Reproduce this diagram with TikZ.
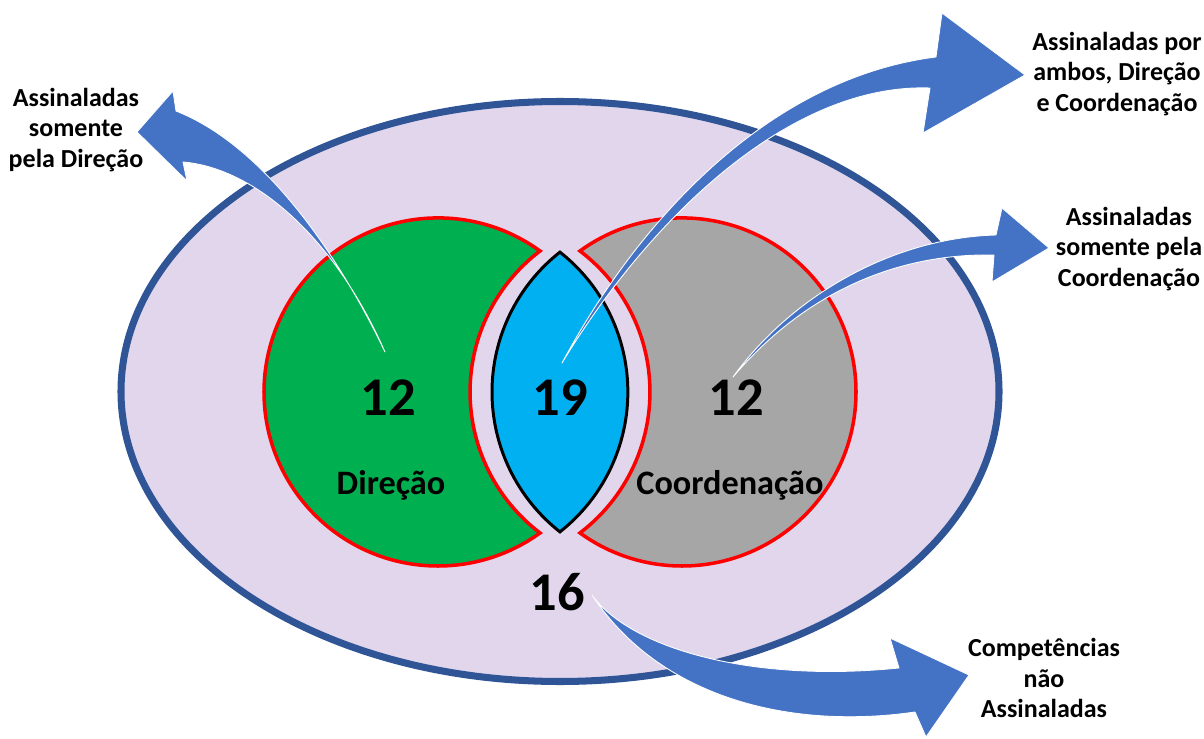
\documentclass[tikz,border=0pt]{standalone}
\usepackage{fontspec}
\setmainfont{Carlito}
\usetikzlibrary{calc}

\definecolor{lavender}{RGB}{225,214,236}
\definecolor{ringblue}{RGB}{47,85,151}
\definecolor{dirgreen}{RGB}{0,176,80}
\definecolor{coordgray}{RGB}{166,166,166}
\definecolor{lensblue}{RGB}{0,176,240}
\definecolor{arrowblue}{RGB}{68,114,196}

\tikzset{
  region/.style={draw=red, line width=2pt},
  bigarrow/.style={fill=arrowblue, draw=white, line width=0.5pt, line join=round},
  num/.style={font=\fontsize{31}{31}\selectfont\bfseries},
  setname/.style={font=\fontsize{19.5}{19.5}\selectfont\bfseries, anchor=base},
  side/.style={font=\fontsize{14.8}{17.6}\selectfont\bfseries, align=center}
}

\begin{document}
\begin{tikzpicture}[x=0.02cm,y=0.02cm]
    \useasboundingbox (0,0) rectangle (1204,738);

    \coordinate (O) at (560,346.5);
    \coordinate (G) at (438,346);
    \coordinate (C) at (682,346);

    % outer set
    \filldraw[fill=lavender, draw=ringblue, line width=4pt] (O) ellipse [x radius=439, y radius=290];

    % crescents and lens
    \filldraw[fill=dirgreen, region] ($(G)+(180:174)$) arc (180:305.9:174) arc (232.8:127.2:177) arc (54.1:180:174) -- cycle;
    \filldraw[fill=coordgray, region] ($(C)+(0:174)$) arc (0:-125.9:174) arc (-52.8:52.8:177) arc (125.9:0:174) -- cycle;
    \filldraw[fill=lensblue, draw=black, line width=1.7pt] (492,346) arc (180:231.8:178) arc (-51.8:51.8:178) arc (128.2:180:178) -- cycle;

    \node[num] (dir-n) at (388,340) {12};
    \node[num] (both-n) at (560,340) {19};
    \node[num] (coord-n) at (736,340) {12};
    \node[num] (none-n) at (557,146) {16};
    \node[setname] (dir-l) at (391,244) {Direção};
    \node[setname] (coord-l) at (730,244) {Coordenação};

    \node[side] (dir-t) at (76,608) {Assinaladas\\somente\\pela Direção};
    \node[side] (both-t) at (1117,664) {Assinaladas por\\ambos, Direção\\e Coordenação};
    \node[side] (coord-t) at (1129,489) {Assinaladas\\somente pela\\Coordenação};
    \node[side] (none-t) at (1044,60) {Competências\\não\\Assinaladas};

    % curved block arrows
    \coordinate (A1) at (385,386);
    \coordinate (A2) at (562,375);
    \coordinate (A3) at (733,361);
    \coordinate (A4) at (592,143);

    \fill[bigarrow] (A1) .. controls (345,470) and (270,590) .. (176,627) -- (173,647) -- (137,606)
        -- (187,557) -- (183,576) .. controls (255,570) and (335,500) .. (A1) -- cycle;
    \fill[bigarrow] (A2) .. controls (640,520) and (770,660) .. (936,681) -- (942,725) -- (1025,663)
        -- (923,605) -- (930,650) .. controls (790,655) and (650,520) .. (A2) -- cycle;
    \fill[bigarrow] (A3) .. controls (790,440) and (890,500) .. (996,503) -- (1002,530) -- (1049,490)
        -- (992,456) -- (994,483) .. controls (890,485) and (800,440) .. (A3) -- cycle;
    \fill[bigarrow] (A4) .. controls (630,90) and (750,55) .. (899,70) -- (890,100) -- (969,63)
        -- (926,1) -- (915,26) .. controls (790,8) and (660,40) .. (A4) -- cycle;
\end{tikzpicture}
\end{document}
